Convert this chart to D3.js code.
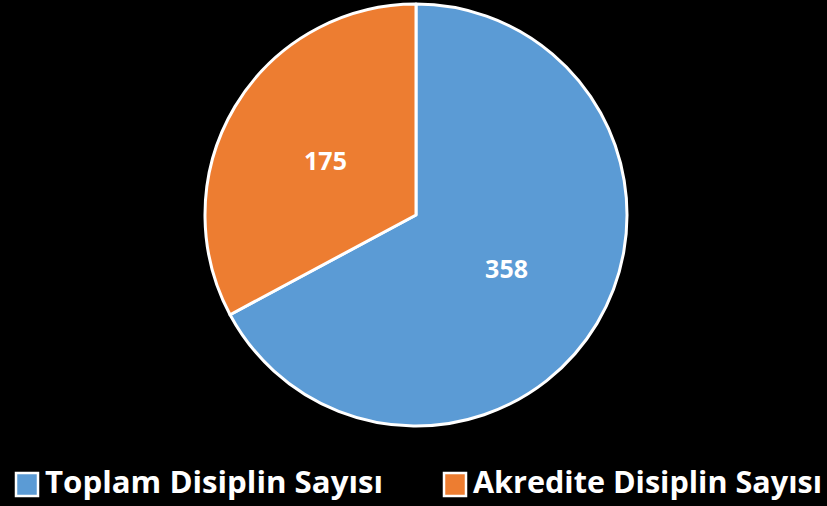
<!DOCTYPE html>
<html>
<head>
<meta charset="utf-8">
<script src="https://cdn.jsdelivr.net/npm/d3@7"></script>
<style>
  html, body { margin: 0; padding: 0; background: #000; }
  svg { display: block; }
</style>
</head>
<body>
<svg id="chart" width="827" height="506"></svg>
<script>
const categories = ["Toplam Disiplin Sayısı", "Akredite Disiplin Sayısı"];
const values = [358, 175];
const colors = ["#5B9BD5", "#ED7D31"];

const width = 827, height = 506;
const cx = 416, cy = 215, radius = 211;
const font = "'Open Sans', 'DejaVu Sans', sans-serif";

const svg = d3.select("#chart");
svg.append("rect").attr("width", width).attr("height", height).attr("fill", "#000");

const pie = d3.pie().sort(null).value(d => d)(values);
const arc = d3.arc().innerRadius(0).outerRadius(radius);
const labelArc = d3.arc().innerRadius(radius * 0.5).outerRadius(radius * 0.5);

const g = svg.append("g").attr("transform", `translate(${cx},${cy})`);

g.selectAll("path")
    .data(pie)
    .join("path")
    .attr("d", arc)
    .attr("fill", (d, i) => colors[i])
    .attr("stroke", "#fff")
    .attr("stroke-width", 3)
    .attr("stroke-linejoin", "round");

g.selectAll("text")
    .data(pie)
    .join("text")
    .attr("transform", d => `translate(${labelArc.centroid(d)})`)
    .attr("text-anchor", "middle")
    .attr("dy", "0.35em")
    .attr("fill", "#fff")
    .attr("font-family", font)
    .attr("font-weight", "bold")
    .attr("font-size", 25)
    .text(d => d.data);

// legend
const legendX = [15, 443];
const legendTextW = [338, 349];
const legend = svg.append("g").attr("class", "legend");

const items = legend.selectAll("g")
    .data(categories)
    .join("g")
    .attr("transform", (d, i) => `translate(${legendX[i]},472)`);

items.append("rect")
    .attr("x", 1)
    .attr("y", 1)
    .attr("width", 22)
    .attr("height", 23)
    .attr("fill", (d, i) => colors[i])
    .attr("stroke", "#fff")
    .attr("stroke-width", 2.5);

items.append("text")
    .attr("x", 30)
    .attr("y", 21)
    .attr("fill", "#fff")
    .attr("font-family", font)
    .attr("font-weight", "bold")
    .attr("font-size", 30)
    .attr("textLength", (d, i) => legendTextW[i])
    .attr("lengthAdjust", "spacingAndGlyphs")
    .text(d => d);
</script>
</body>
</html>
